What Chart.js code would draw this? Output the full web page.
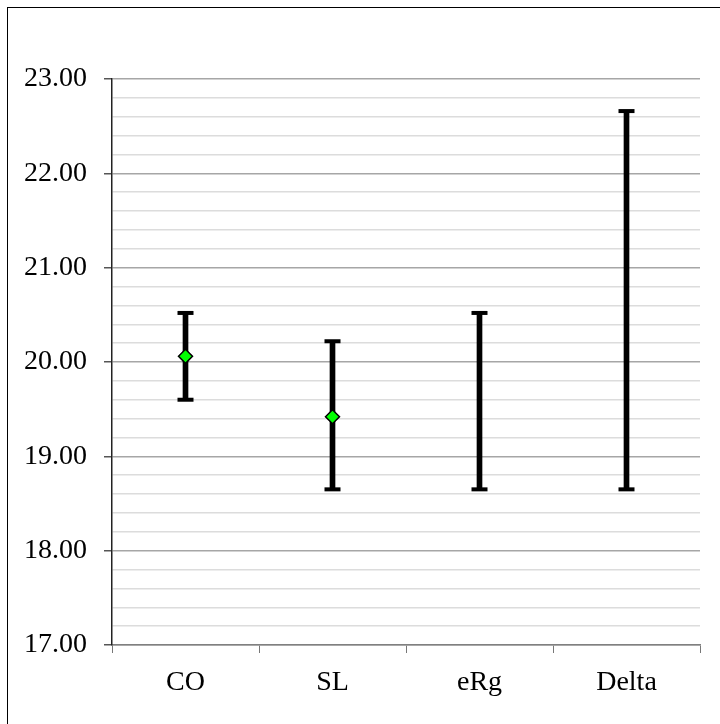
<!DOCTYPE html>
<html lang="en">
<head>
    <meta charset="UTF-8">
    <title>Range chart</title>
    <script src="https://cdn.jsdelivr.net/npm/chart.js"></script>
<style>
    body{margin:0; overflow:hidden; background:#fff;}
    #frame{position:absolute; left:7px; top:7px; width:780px; height:780px; border:1px solid #000;}
    #myChart{position:absolute; left:0; top:0;}
</style>
</head>
<body>
    <div id="frame"></div>
    <canvas id="myChart" width="720" height="724"></canvas>
    <script>
        // data
        let labels = ['CO', 'SL', 'eRg', 'Delta'];
        let highVals = [20.52, 20.22, 20.52, 22.66];
        let lowVals = [19.60, 18.65, 18.65, 18.65];
        let meanVals = [20.06, 19.42, null, null];
        let yMin = 17, yMax = 23, yStep = 0.2;

        let rangeArr = [];
        for (let i = 0; i < labels.length; i++) {
            rangeArr.push([lowVals[i], highVals[i]]);
        }

        function isMajor(v) {
            return Math.abs(v - Math.round(v)) < 1e-6;
        }

        const ctx = document.getElementById('myChart');
        new Chart(ctx, {
            type: 'bar',
            data: {
                labels: labels,
                datasets: [
                    {
                        type: 'line',
                        data: meanVals,
                        showLine: false,
                        pointStyle: 'rectRot',
                        pointRadius: 7,
                        pointBackgroundColor: '#00ff00',
                        pointBorderColor: '#000',
                        pointBorderWidth: 1.5,
                        order: 0
                    },
                    {
                        type: 'line',
                        data: highVals,
                        showLine: false,
                        pointStyle: 'line',
                        pointRadius: 8,
                        pointBorderColor: '#000',
                        pointBorderWidth: 4,
                        order: 1
                    },
                    {
                        type: 'line',
                        data: lowVals,
                        showLine: false,
                        pointStyle: 'line',
                        pointRadius: 8,
                        pointBorderColor: '#000',
                        pointBorderWidth: 4,
                        order: 1
                    },
                    {
                        type: 'bar',
                        data: rangeArr,
                        backgroundColor: '#000',
                        borderWidth: 0,
                        barThickness: 5,
                        order: 2
                    }
                ]
            },
            options: {
                responsive: false,
                animation: false,
                layout: {padding: {left: 0, top: 79, right: 20, bottom: 0}},
                plugins: {legend: {display: false}, tooltip: {enabled: false}},
                scales: {
                    x: {
                        offset: true,
                        grid: {
                            offset: true,
                            drawOnChartArea: false,
                            drawTicks: true,
                            tickLength: 8,
                            tickColor: '#777'
                        },
                        border: {color: '#808080', width: 1.5},
                        ticks: {
                            color: '#000',
                            padding: 13,
                            font: {family: 'Liberation Serif', size: 28}
                        },
                        afterFit: function(scale){ scale.height = 79; }
                    },
                    y: {
                        min: yMin,
                        max: yMax,
                        grid: {
                            color: function(c){ return isMajor(c.tick.value) ? '#a6a6a6' : '#dcdcdc'; },
                            lineWidth: 1.5,
                            tickLength: 8,
                            tickColor: function(c){ return isMajor(c.tick.value) ? '#555' : 'rgba(0,0,0,0)'; }
                        },
                        border: {color: '#222', width: 1.5},
                        ticks: {
                            stepSize: yStep,
                            autoSkip: false,
                            color: '#000',
                            padding: 17,
                            font: {family: 'Liberation Serif', size: 28},
                            callback: function(v){ return isMajor(v) ? Number(v).toFixed(2) : ''; }
                        },
                        afterFit: function(scale){ scale.width = 112; }
                    }
                }
            }
        });
    </script>
</body>
</html>
